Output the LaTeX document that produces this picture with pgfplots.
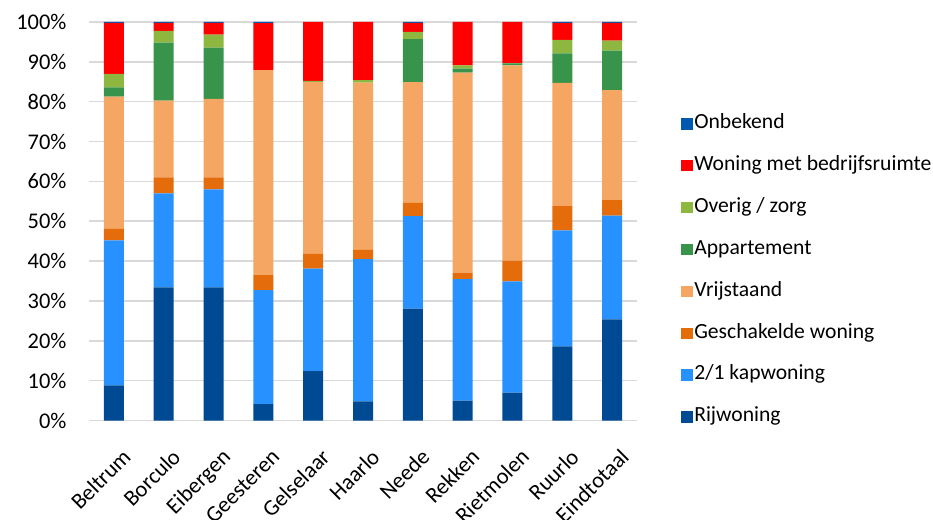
\documentclass[border=0pt]{standalone}
\usepackage{fontspec}
\setmainfont{Carlito}
\usepackage{pgfplots}
\usepackage{pgfplotstable}
\pgfplotsset{compat=1.18}

\definecolor{cRij}{RGB}{0,74,148}
\definecolor{cKap}{RGB}{38,145,255}
\definecolor{cGes}{RGB}{228,108,10}
\definecolor{cVrij}{RGB}{245,166,99}
\definecolor{cApp}{RGB}{55,148,74}
\definecolor{cOv}{RGB}{141,183,63}
\definecolor{cBed}{RGB}{255,0,0}
\definecolor{cOnb}{RGB}{0,88,176}

% share of each dwelling type per village (%)
\pgfplotstableread{
id rij kap ges vrij app ov bed onb
0  8.8 36.4 2.9 33.2  2.3 3.4 12.8 0.2
1 33.4 23.6 4.0 19.3 14.5 3.0  2.0 0.2
2 33.4 24.6 3.0 19.7 12.9 3.2  3.0 0.2
3  4.1 28.6 3.8 51.4  0.0 0.0 11.8 0.3
4 12.4 25.7 3.7 43.1  0.0 0.3 14.8 0.0
5  4.8 35.7 2.3 42.0  0.0 0.6 14.6 0.0
6 28.1 23.2 3.3 30.3 10.8 1.8  2.3 0.2
7  5.0 30.5 1.6 50.2  1.0 0.8 10.9 0.0
8  7.0 27.9 5.2 49.0  0.5 0.1 10.3 0.0
9 18.6 29.1 6.1 30.9  7.4 3.4  4.3 0.2
10 25.4 26.0 4.0 27.5 9.9 2.5  4.5 0.2
}\woningen

\begin{document}
\begin{tikzpicture}
\path[use as bounding box] (0,0) rectangle (933bp,520bp);
\begin{axis}[
  at={(89bp,99.5bp)}, anchor=south west,
  scale only axis, width=548bp, height=398.5bp,
  ybar stacked, bar width=20bp,
  xmin=-0.5, xmax=10.5, ymin=0, ymax=100,
  xtick={0,...,10},
  xticklabels={Beltrum,Borculo,Eibergen,Geesteren,Gelselaar,Haarlo,Neede,Rekken,Rietmolen,Ruurlo,Eindtotaal},
  ytick={0,10,...,100},
  yticklabel={\pgfmathprintnumber{\tick}\%},
  /pgf/number format/assume math mode=true,
  major tick length=0pt,
  axis line style={draw=none},
  ymajorgrids,
  grid style={draw=black!15, line width=1.5bp},
  yticklabel style={font=\fontsize{22.5}{26}\selectfont, text=black, xshift=-19bp},
  xticklabel style={font=\fontsize{22.5}{26}\selectfont, text=black,
    rotate=45, anchor=north east, inner sep=1bp, xshift=-13bp, yshift=-23bp},
  reverse legend,
  legend cell align=left,
  legend style={at={(1.075,0.376)}, anchor=west, draw=none, fill=none,
    font=\fontsize{21.7}{25}\selectfont,
    nodes={inner sep=1.5bp, text height=13bp, text depth=4bp},
    row sep=21.9bp},
  legend image code/.code={\fill[#1] (0bp,-5.5bp) rectangle (11.5bp,6bp);},
]
\addplot[fill=cRij, draw=none] table[x=id, y=rij] {\woningen};
\addlegendentry{Rijwoning}
\addplot[fill=cKap, draw=none] table[x=id, y=kap] {\woningen};
\addlegendentry{2/1 kapwoning}
\addplot[fill=cGes, draw=none] table[x=id, y=ges] {\woningen};
\addlegendentry{Geschakelde woning}
\addplot[fill=cVrij, draw=none] table[x=id, y=vrij] {\woningen};
\addlegendentry{Vrijstaand}
\addplot[fill=cApp, draw=none] table[x=id, y=app] {\woningen};
\addlegendentry{Appartement}
\addplot[fill=cOv, draw=none] table[x=id, y=ov] {\woningen};
\addlegendentry{Overig / zorg}
\addplot[fill=cBed, draw=none] table[x=id, y=bed] {\woningen};
\addlegendentry{Woning met bedrijfsruimte}
\addplot[fill=cOnb, draw=none] table[x=id, y=onb] {\woningen};
\addlegendentry{Onbekend}
\end{axis}
\end{tikzpicture}
\end{document}
